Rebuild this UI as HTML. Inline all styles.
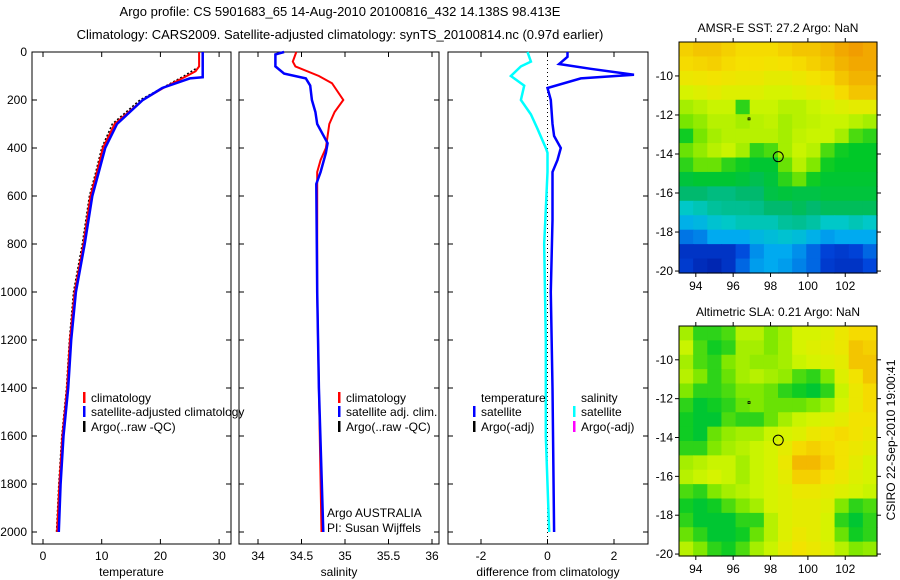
<!DOCTYPE html>
<html><head><meta charset="utf-8"><style>
html,body{margin:0;padding:0;background:#fff;}
svg{display:block;font-family:"Liberation Sans","DejaVu Sans",sans-serif;}
</style></head><body>
<svg id="c" width="900" height="580" viewBox="0 0 900 580"></svg>
<script>
// ---------- data ----------
const tempDepthClim = [0,60,80,100,150,200,300,400,500,600,800,1000,1200,1400,1600,1800,2000];
const tempClim      = [26.6,26.6,26,24.5,20.5,17,12.2,10.2,9.2,8.1,6.9,5.4,4.6,4.1,3.3,2.8,2.4];
const tempDepthSat  = [0,105,110,150,200,300,400,500,600,800,1000,1200,1400,1600,1800,2000];
const tempSat       = [27.2,27.2,25,20.3,17,12.6,10.6,9.5,8.4,7.1,5.6,4.8,4.3,3.5,3.0,2.7];
const tempDepthArgo = [70,100,150,200,300,400,500,600,800,1000,1200,1400,1600,1800,2000];
const tempArgo      = [26,24,20.3,16.5,11.8,10,9,7.9,6.7,5.2,4.5,4.0,3.2,2.7,2.3];
const salDepthClim  = [0,40,60,100,130,200,250,300,400,450,500,600,1000,1400,2000];
const salClim       = [34.44,34.4,34.43,34.7,34.85,34.98,34.88,34.82,34.78,34.72,34.68,34.68,34.68,34.7,34.73];
const salDepthSat   = [0,10,60,90,110,140,200,250,300,380,420,500,550,1000,1400,2000];
const salSat        = [34.3,34.2,34.2,34.3,34.55,34.6,34.62,34.66,34.68,34.8,34.78,34.72,34.67,34.68,34.7,34.75];
const diffDepthT    = [0,20,50,70,95,110,150,200,300,350,400,450,500,700,1000,1400,2000];
const diffTemp      = [0.6,0.6,0.35,1.3,2.6,1.0,0,0.1,0.15,0.2,0.4,0.3,0.15,0.15,0.1,0.15,0.2];
const diffDepthS    = [0,40,60,100,140,200,260,320,400,420,500,800,1200,1600,2000];
const diffSal       = [-0.6,-0.5,-0.8,-1.1,-0.7,-0.8,-0.5,-0.3,-0.05,0,0,-0.1,-0.05,-0.05,0.05];
const depthTicks = [0,200,400,600,800,1000,1200,1400,1600,1800,2000];
const tempTicks = [0,10,20,30];
const salTicks = [34,34.5,35,35.5,36];
const diffTicks = [-2,0,2];
const lonTicks = [94,96,98,100,102];
const latTicks = [-10,-12,-14,-16,-18,-20];
const sstGrid = [
[.88,.9,.9,.88,.86,.86,.86,.88,.9,.9,.92,.95,.97,.95],
[.86,.87,.88,.86,.85,.85,.84,.85,.86,.88,.9,.93,.95,.95],
[.82,.83,.84,.83,.82,.82,.8,.8,.82,.84,.86,.9,.93,.93],
[.76,.78,.8,.78,.78,.78,.76,.76,.78,.8,.82,.86,.9,.9],
[.7,.72,.74,.74,.6,.74,.74,.72,.72,.74,.76,.78,.8,.8],
[.65,.68,.72,.72,.7,.72,.73,.7,.72,.73,.74,.74,.72,.7],
[.58,.65,.7,.72,.72,.72,.72,.7,.73,.74,.74,.7,.62,.6],
[.64,.68,.72,.74,.7,.6,.62,.7,.74,.72,.62,.58,.57,.57],
[.6,.64,.64,.6,.58,.56,.56,.64,.72,.66,.58,.57,.57,.57],
[.55,.56,.56,.56,.55,.53,.55,.6,.64,.58,.56,.56,.56,.56],
[.5,.5,.48,.48,.5,.5,.54,.55,.54,.54,.55,.55,.55,.55],
[.4,.42,.45,.46,.46,.47,.5,.5,.52,.5,.52,.52,.52,.52],
[.32,.34,.38,.4,.42,.42,.42,.45,.46,.44,.4,.4,.42,.4],
[.22,.24,.3,.3,.3,.34,.36,.38,.36,.32,.28,.3,.3,.3],
[.1,.1,.1,.1,.16,.26,.3,.3,.26,.2,.14,.12,.14,.2],
[.12,.08,.06,.1,.2,.28,.3,.28,.24,.2,.12,.1,.1,.15]];
const slaGrid = [
[.7,.6,.6,.62,.72,.72,.66,.7,.76,.76,.78,.82,.86,.86],
[.74,.62,.58,.6,.7,.7,.66,.7,.76,.78,.8,.82,.9,.88],
[.7,.62,.6,.66,.7,.68,.68,.7,.74,.76,.78,.8,.9,.9],
[.72,.66,.6,.64,.7,.72,.7,.68,.62,.6,.66,.78,.84,.9],
[.66,.6,.6,.62,.66,.66,.64,.6,.58,.56,.6,.74,.82,.86],
[.6,.56,.58,.6,.64,.66,.64,.64,.64,.66,.7,.76,.82,.86],
[.58,.56,.56,.62,.6,.6,.64,.7,.74,.76,.78,.8,.84,.84],
[.58,.56,.64,.68,.7,.7,.74,.76,.78,.82,.84,.86,.84,.82],
[.6,.6,.66,.7,.72,.74,.76,.8,.86,.88,.86,.84,.82,.8],
[.7,.72,.74,.74,.7,.74,.76,.82,.92,.92,.88,.84,.8,.76],
[.72,.74,.76,.74,.7,.74,.76,.8,.88,.88,.84,.82,.78,.76],
[.62,.6,.66,.7,.72,.74,.76,.78,.82,.82,.8,.78,.76,.74],
[.58,.56,.58,.62,.66,.7,.76,.78,.8,.8,.78,.66,.6,.62],
[.6,.56,.56,.56,.6,.6,.72,.78,.8,.8,.76,.6,.56,.6],
[.64,.6,.56,.56,.58,.64,.72,.78,.82,.8,.76,.64,.58,.6],
[.72,.66,.6,.58,.62,.7,.74,.8,.84,.82,.78,.72,.66,.68]];
const argoLon = [98.413], argoLat = [-14.138];

// ---------- helpers ----------
const svg = document.getElementById('c');
const NS = 'http://www.w3.org/2000/svg';
function mk(tag, attrs, parent){const e=document.createElementNS(NS,tag);for(const k in attrs)e.setAttribute(k,attrs[k]);(parent||svg).appendChild(e);return e;}
function txt(x,y,s,anchor,size,parent){const t=mk('text',{x:x,y:y,'font-size':size||12,'text-anchor':anchor||'start',fill:'#000'},parent);t.textContent=s;return t;}
const yD = d => 52 + d*0.24;
const xT = v => 43 + v*5.87;
const xS = v => 258 + (v-34)*87;
const xF = v => 547.5 + v*33.25;

function line(xs, ds, xf, color, w, name, parent){
  const pts = xs.map((v,i)=>xf(v).toFixed(1)+','+yD(ds[i]).toFixed(1)).join(' ');
  const p = mk('polyline',{points:pts,fill:'none',stroke:color,'stroke-width':w,'stroke-dasharray':name.indexOf('argo')>=0?'2,2':'none'},parent);
  
  
}
function panel(x0,x1,name,ticks,xf,label,leftLabels){
  const g = mk('g',{});
  
  
  mk('rect',{x:x0,y:52,width:x1-x0,height:492,fill:'none',stroke:'#000','stroke-width':1},g);
  ticks.forEach(t=>{const x=xf(t);mk('line',{x1:x,y1:544,x2:x,y2:539,stroke:'#000'},g);mk('line',{x1:x,y1:52,x2:x,y2:57,stroke:'#000'},g);txt(x,560,String(t),'middle',12,g);});
  depthTicks.forEach(d=>{const y=yD(d);mk('line',{x1:x0,y1:y,x2:x0+5,y2:y,stroke:'#000'},g);mk('line',{x1:x1,y1:y,x2:x1-5,y2:y,stroke:'#000'},g);if(leftLabels)txt(x0-5,y+4,String(d),'end',12,g);});
  txt((x0+x1)/2,576,label,'middle',12,g);
  return g;
}
function legendItem(x,y,color,s,g){mk('rect',{x:x,y:y-10,width:2.5,height:11,fill:color},g);txt(x+8,y,s,'start',12,g);}

// ---------- titles ----------
const t1=txt(340,16,'Argo profile: CS 5901683_65 14-Aug-2010 20100816_432 14.138S 98.413E','middle',13);

const t2=txt(340,39,'Climatology: CARS2009. Satellite-adjusted climatology: synTS_20100814.nc (0.97d earlier)','middle',13);


// ---------- panel 1 ----------
const p1=panel(32,231,'temperature-panel',tempTicks,xT,'temperature',true);
line(tempArgo,tempDepthArgo,xT,'#000',1.5,'argo-temperature-line',p1);
line(tempClim,tempDepthClim,xT,'#f00',2,'climatology-temperature-line',p1);
line(tempSat,tempDepthSat,xT,'#00f',2.5,'satellite-temperature-line',p1);
const l1=mk('g',{},p1);
legendItem(83,402,'#f00','climatology',l1);legendItem(83,416,'#00f','satellite-adjusted climatology',l1);legendItem(83,431,'#000','Argo(..raw -QC)',l1);

// ---------- panel 2 ----------
const p2=panel(239,439,'salinity-panel',salTicks,xS,'salinity',false);
line(salClim,salDepthClim,xS,'#f00',2,'climatology-salinity-line',p2);
line(salSat,salDepthSat,xS,'#00f',2.5,'satellite-salinity-line',p2);
const l2=mk('g',{},p2);
legendItem(338,402,'#f00','climatology',l2);legendItem(338,416,'#00f','satellite adj. clim.',l2);legendItem(338,431,'#000','Argo(..raw -QC)',l2);
const cr=mk('g',{},p2);
txt(327,517,'Argo AUSTRALIA','start',12,cr);txt(327,532,'PI: Susan Wijffels','start',12,cr);

// ---------- panel 3 ----------
const p3=panel(448,648,'difference-panel',diffTicks,xF,'difference from climatology',false);
const zl=mk('line',{x1:xF(0),y1:52,x2:xF(0),y2:544,stroke:'#000','stroke-dasharray':'1,3'},p3);

line(diffSal,diffDepthS,xF,'#0ff',2.5,'salinity-difference-line',p3);
line(diffTemp,diffDepthT,xF,'#00f',2.5,'temperature-difference-line',p3);
const l3=mk('g',{},p3);
txt(481,402,'temperature','start',12,l3);txt(581,402,'salinity','start',12,l3);
legendItem(473,416,'#00f','satellite',l3);legendItem(473,431,'#000','Argo(-adj)',l3);
legendItem(573,416,'#0ff','satellite',l3);legendItem(573,431,'#f0f','Argo(-adj)',l3);

// ---------- maps ----------
const cstops=[[0,[0,16,150]],[.15,[0,70,220]],[.3,[0,170,240]],[.4,[0,200,200]],[.5,[0,185,110]],[.57,[0,200,40]],[.65,[120,230,0]],[.75,[210,245,0]],[.85,[245,225,0]],[1,[240,140,0]]];
function cmap(v){for(let i=1;i<cstops.length;i++){if(v<=cstops[i][0]){const a=cstops[i-1],b=cstops[i],f=(v-a[0])/(b[0]-a[0]);const c=a[1].map((x,k)=>Math.round(x+(b[1][k]-x)*f));return 'rgb('+c.join(',')+')';}}return 'rgb(240,140,0)';}
function map(y0,y1,grid,name,title){
  const x0=679,x1=877,lonL=93.1,lonR=103.7,latT=-8.26,latB=-20.1;
  const xL=v=>x0+(v-lonL)/(lonR-lonL)*(x1-x0), yL=v=>y0+(latT-v)/(latT-latB)*(y1-y0);
  const g=mk('g',{});
  const rows=grid.length,cols=grid[0].length,cw=(x1-x0)/cols,ch=(y1-y0)/rows;
  grid.forEach((row,r)=>row.forEach((v,c)=>{const cell=mk('rect',{x:(x0+c*cw).toFixed(2),y:(y0+r*ch).toFixed(2),width:(cw+0.6).toFixed(2),height:(ch+0.6).toFixed(2),fill:cmap(v)},g);
    }));
  mk('rect',{x:x0,y:y0,width:x1-x0,height:y1-y0,fill:'none',stroke:'#000'},g);
  lonTicks.forEach(t=>{const x=xL(t);mk('line',{x1:x,y1:y1,x2:x,y2:y1+4,stroke:'#000'},g);mk('line',{x1:x,y1:y0,x2:x,y2:y0-4,stroke:'#000'},g);txt(x,y1+17,String(t),'middle',12,g);});
  latTicks.forEach(t=>{const y=yL(t);mk('line',{x1:x0,y1:y,x2:x0-4,y2:y,stroke:'#000'},g);mk('line',{x1:x1,y1:y,x2:x1+4,y2:y,stroke:'#000'},g);txt(x0-6,y+4,String(t),'end',12,g);});
  const mk1=mk('circle',{cx:xL(argoLon[0]),cy:yL(argoLat[0]),r:5,fill:'none',stroke:'#000','stroke-width':1},g);
  
  mk('rect',{x:xL(96.85)-1,y:yL(-12.2)-1,width:2,height:2,fill:'none',stroke:'#000','stroke-width':0.8},g);
  const tt=txt((x0+x1)/2,y0-10,title,'middle',12,g);
}
map(42,273,sstGrid,'sst-map','AMSR-E SST: 27.2 Argo: NaN');
map(326,556,slaGrid,'sla-map','Altimetric SLA: 0.21 Argo: NaN');
const ts=txt(0,0,'CSIRO 22-Sep-2010 19:00:41','middle',12);
ts.setAttribute('transform','translate(895,440) rotate(-90)');

</script>
</body></html>
